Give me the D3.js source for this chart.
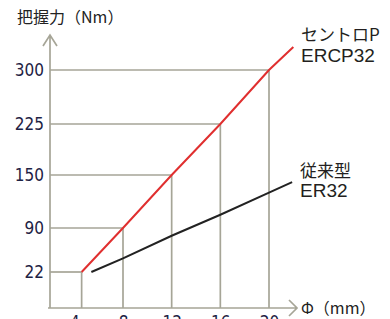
<!DOCTYPE html>
<html>
<head>
<meta charset="utf-8">
<script src="https://cdn.jsdelivr.net/npm/d3@7"></script>
<style>
  html, body { margin: 0; padding: 0; background: #fff; }
  svg { display: block; }
</style>
</head>
<body>
<svg class="chart"></svg>
<script>
// values
var yTicks = [22, 90, 150, 225, 300];
var xTicks = [4, 8, 12, 16, 20];
// red: セントロP ERCP32  [phi, Nm]
var redPhi = [4.6, 8, 12, 16, 20, 22];
var redNm  = [22, 90, 150, 225, 300, 332];
// black: 従来型 ER32
var blackPhi = [5.4, 8, 12, 16, 20, 21.9];
var blackNm  = [22, 43, 78, 105, 130, 142];

var width = 390, height = 319;
var gridColor = "#a6a597";

var svg = d3.select(".chart")
  .attr("width", width)
  .attr("height", height);

var x = d3.scaleLinear().domain([2, 20]).range([50, 269]);
// the y axis of the picture is not to scale, so it is piecewise
var y = d3.scaleLinear()
  .domain([0, 22, 90, 150, 225, 300])
  .range([308, 272, 228, 175, 124, 70]);

var red = redPhi.map(function(p, i) { return {phi: p, nm: redNm[i]}; });
var black = blackPhi.map(function(p, i) { return {phi: p, nm: blackNm[i]}; });

// guide lines from the red points to both axes
var guides = red.filter(function(d) { return yTicks.indexOf(d.nm) >= 0; });
var g = svg.append("g");
g.selectAll(".hguide").data(guides).enter().append("line")
  .attr("x1", x(2)).attr("x2", function(d) { return x(d.phi); })
  .attr("y1", function(d) { return y(d.nm); }).attr("y2", function(d) { return y(d.nm); })
  .attr("stroke", gridColor).attr("stroke-width", 1.7);
g.selectAll(".vguide").data(guides).enter().append("line")
  .attr("x1", function(d) { return x(d.phi); }).attr("x2", function(d) { return x(d.phi); })
  .attr("y1", y(0)).attr("y2", function(d) { return y(d.nm); })
  .attr("stroke", gridColor).attr("stroke-width", 1.7);

// axes with arrow heads
var axisPath = "M" + x(2) + "," + y(0) + "V35 M43,46 L" + x(2) + ",35 L57,46" +
  " M" + (x(2) - 2) + "," + y(0) + "H297 M289,300 L297," + y(0) + " L289,316";
svg.append("path")
  .attr("d", axisPath)
  .attr("fill", "none")
  .attr("stroke", gridColor)
  .attr("stroke-width", 1.7);

var yAxis = d3.axisLeft(y).tickValues(yTicks).tickSize(0).tickPadding(6);
svg.append("g")
  .attr("transform", "translate(" + x(2) + ",0)")
  .call(yAxis)
  .call(function(s) { s.select(".domain").remove(); })
  .selectAll("text")
  .attr("font-family", "DejaVu Sans Condensed")
  .attr("font-size", 17)
  .attr("fill", "#1e2244");

var xAxis = d3.axisBottom(x).tickValues(xTicks).tickSize(0).tickPadding(8);
svg.append("g")
  .attr("transform", "translate(0," + y(0) + ")")
  .call(xAxis)
  .call(function(s) { s.select(".domain").remove(); })
  .selectAll("text")
  .attr("font-family", "DejaVu Sans Condensed")
  .attr("font-size", 17)
  .attr("fill", "#1e2244");

var line = d3.line()
  .x(function(d) { return x(d.phi); })
  .y(function(d) { return y(d.nm); });

svg.append("path").datum(red)
  .attr("fill", "none")
  .attr("stroke", "#e02f2f")
  .attr("stroke-width", 2)
  .attr("d", line);

svg.append("path").datum(black)
  .attr("fill", "none")
  .attr("stroke", "#222")
  .attr("stroke-width", 2)
  .attr("d", line);

// texts
var jp = "'Noto Sans CJK JP', sans-serif";
svg.append("text").attr("x", 17).attr("y", 23)
  .attr("font-family", jp).attr("font-size", 16).attr("fill", "#222")
  .text("把握力（Nm）");
svg.append("text").attr("x", 301).attr("y", 314)
  .attr("font-family", jp).attr("font-size", 16).attr("fill", "#222")
  .text("Φ（mm）");

svg.append("text").attr("x", 301).attr("y", 41)
  .attr("font-family", jp).attr("font-size", 17).attr("fill", "#231f20")
  .text("セントロP");
svg.append("text").attr("x", 301).attr("y", 62)
  .attr("font-family", "Liberation Sans").attr("font-size", 19).attr("fill", "#231f20")
  .text("ERCP32");
svg.append("text").attr("x", 300).attr("y", 177)
  .attr("font-family", jp).attr("font-size", 17).attr("fill", "#231f20")
  .text("従来型");
svg.append("text").attr("x", 300).attr("y", 197)
  .attr("font-family", "Liberation Sans").attr("font-size", 19).attr("fill", "#231f20")
  .text("ER32");
</script>
</body>
</html>
